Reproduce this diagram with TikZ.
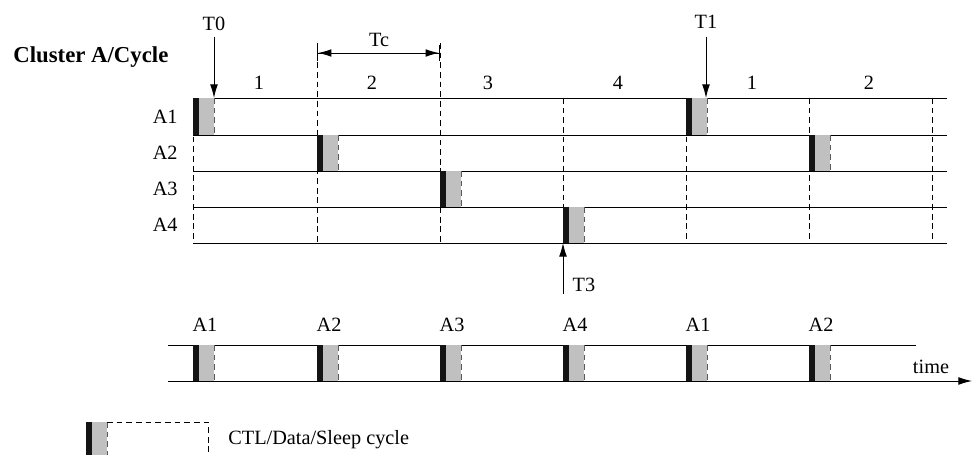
\documentclass[tikz,border=0pt]{standalone}
\usepackage{fontspec}
\setmainfont{Liberation Serif}
\usepackage{tikz}
\usetikzlibrary{arrows.meta, positioning}
\definecolor{slotgray}{HTML}{C0C0C0}
\definecolor{slotedge}{HTML}{5A5A5A}
\tikzstyle{grid} = [line width=0.5pt]
\tikzstyle{divider} = [line width=0.5pt, dash pattern=on 3pt off 2pt]
\tikzstyle{arrow} = [line width=0.5pt, -{Latex[length=7pt,width=4pt]}]
\tikzstyle{lbl} = [inner sep=0pt, font=\fontsize{10.5}{12}\selectfont]
% one CTL/Data/Sleep slot: x, top, bottom
\newcommand{\ctlslot}[3]{%
	\fill[slotgray] (#1+6,#2) rectangle (#1+21,#3);
	\draw[slotedge, divider] (#1+21,#2) -- (#1+21,#3);
	\fill[black!92] (#1,#2) rectangle (#1+6,#3);
}

\begin{document}
\begin{tikzpicture}[x=0.518pt, y=-0.518pt]
	\useasboundingbox (0,0) rectangle (973,455);
	\node (cluster) [anchor=west, inner sep=0pt, font=\fontsize{11.8}{14}\bfseries] at (13,57) {Cluster A/Cycle};
	% rows
	\foreach \y in {98,135,171,207,243}
		\draw[grid] (193,\y) -- (947,\y);
	\foreach \x in {193,563,686,809,932}
		\draw[divider] (\x,98) -- (\x,243);
	\foreach \x in {317,440}
		\draw[divider] (\x,43) -- (\x,243);
	\foreach \r/\y in {1/116.5,2/153,3/189,4/225}
		\node[lbl, anchor=east] (row\r) at (178,\y) {A\r};
	\foreach \x/\n in {259/1,372/2,488/3,618/4,752/1,869/2}
		\node[lbl] (cyc\x) at (\x,83) {\n};
	\ctlslot{193}{98}{135}
	\ctlslot{317}{135}{171}
	\ctlslot{440}{171}{207}
	\ctlslot{563}{207}{243}
	\ctlslot{686}{98}{135}
	\ctlslot{809}{135}{171}
	% markers
	\node[lbl] (t0) at (214,24) {T0};
	\coordinate (t0tip) at (214,98);
	\draw[arrow] (t0) ++(0,13) -- (t0tip);
	\node[lbl] (t1) at (706,22) {T1};
	\coordinate (t1tip) at (706,98);
	\draw[arrow] (t1) ++(0,15) -- (t1tip);
	\node[lbl] (t3) at (584,285) {T3};
	\coordinate (t3tail) at (563,294);
	\coordinate (t3tip) at (563,243);
	\draw[arrow] (t3tail) -- (t3tip);
	\node[lbl] (tc) at (379,40) {Tc};
	\coordinate (tcl) at (317,53);
	\coordinate (tcr) at (440,53);
	\draw[line width=0.5pt, {Bar[width=8pt]Latex[length=7pt,width=4pt]}-{Latex[length=7pt,width=4pt]Bar[width=8pt]}] (tcl) -- (tcr);
	% merged time line
	\coordinate (tla) at (168,345);
	\coordinate (tlb) at (916,345);
	\coordinate (tba) at (168,381);
	\coordinate (tbb) at (972,381);
	\draw[grid] (tla) -- (tlb);
	\draw[arrow] (tba) -- (tbb);
	\foreach \x/\a in {193/1,317/2,440/3,563/4,686/1,809/2} {
		\ctlslot{\x}{345}{381}
		\node[lbl] (bot\x) at (\x+12,325) {A\a};
	}
	\node[lbl] (time) at (931,367) {time};
	% legend
	\ctlslot{86}{422}{455}
	\coordinate (lga) at (107,422);
	\coordinate (lgb) at (208,422);
	\coordinate (lgc) at (208,455);
	\draw[divider] (lga) -- (lgb) -- (lgc);
	\node[lbl, anchor=west] (legend) at (228,440) {CTL/Data/Sleep cycle};
\end{tikzpicture}
\end{document}
